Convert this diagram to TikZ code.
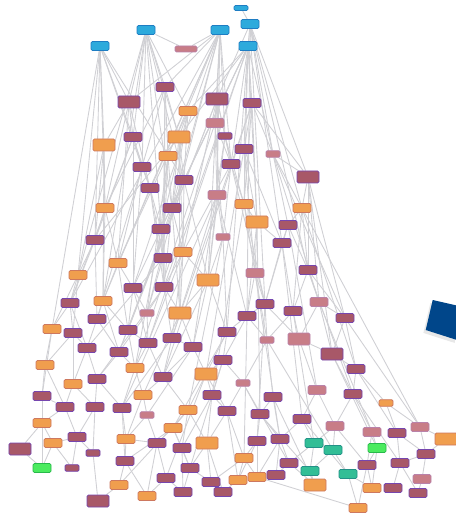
\documentclass[tikz,border=0pt]{standalone}
\usetikzlibrary{backgrounds, shadows}
\definecolor{blueFill}{RGB}{45, 170, 220}
\definecolor{blueEdge}{RGB}{30, 125, 195}
\definecolor{plumFill}{RGB}{168, 88, 104}
\definecolor{plumEdge}{RGB}{118, 70, 175}
\definecolor{orangeFill}{RGB}{240, 158, 78}
\definecolor{orangeEdge}{RGB}{205, 120, 95}
\definecolor{roseFill}{RGB}{200, 125, 135}
\definecolor{roseEdge}{RGB}{185, 130, 170}
\definecolor{greenFill}{RGB}{75, 235, 95}
\definecolor{greenEdge}{RGB}{40, 185, 75}
\definecolor{tealFill}{RGB}{50, 190, 150}
\definecolor{tealEdge}{RGB}{35, 145, 135}
\definecolor{edgeGray}{RGB}{208, 208, 212}
\definecolor{markBlue}{RGB}{0, 70, 138}
\tikzset{
    x=0.03cm, y=-0.03cm,
    %
    % 基础节点样式
    box/.style={
        rectangle, rounded corners=1.2pt, line width=0.7pt,
        inner sep=0pt, minimum width=0.54cm, minimum height=0.27cm
    },
    big/.style={minimum width=0.66cm, minimum height=0.36cm},
    small/.style={minimum width=0.42cm, minimum height=0.2cm},
    %
    B/.style={box, draw=blueEdge, fill=blueFill},
    Bs/.style={B, small, minimum height=0.15cm},
    P/.style={box, draw=plumEdge, fill=plumFill},
    Pb/.style={P, big},
    Ps/.style={P, small},
    O/.style={box, draw=orangeEdge, fill=orangeFill},
    Ob/.style={O, big},
    Os/.style={O, small},
    R/.style={box, draw=roseEdge, fill=roseFill},
    Rb/.style={R, big},
    Rs/.style={R, small},
    Rw/.style={R, minimum width=0.66cm, minimum height=0.18cm},
    G/.style={box, draw=greenEdge, fill=greenFill},
    T/.style={box, draw=tealEdge, fill=tealFill},
    %
    % 连线样式
    link/.style={draw=edgeGray, line width=0.75pt}
}
\begin{document}
\begin{tikzpicture}

	\useasboundingbox (0,0) rectangle (455,516);

	%% 布局：x/y/样式
	\foreach \x/\y/\s [count=\i] in {
		241/8/Bs, 250/24/B, 220/30/B, 146/30/B, 100/46/B, 248/46/B, 186/49/Rw,
		165/87/P, 129/102/Pb, 217/99/Pb, 252/103/P, 188/111/O, 215/123/R,
		133/137/P, 179/137/Ob, 225/136/Ps, 104/145/Ob, 244/149/P, 273/154/Rs,
		168/156/O, 231/164/P, 142/167/P, 308/177/Pb, 184/180/P, 150/188/P,
		217/195/R, 244/204/O, 172/208/P, 105/208/O, 302/208/O, 257/222/Ob,
		288/225/P, 161/229/P, 223/237/Rs, 95/240/P, 282/243/P, 183/252/O,
		163/258/P, 118/263/O, 255/273/R, 308/270/P, 78/275/O, 208/280/Ob,
		164/287/P, 133/288/P, 319/302/R, 265/304/P, 70/303/P, 103/301/O,
		293/311/P, 180/313/Ob, 247/316/P, 147/313/Rs, 345/318/P, 97/319/P,
		52/329/O, 73/333/P, 128/330/P, 227/332/P, 172/338/P, 299/339/Rb,
		267/340/Rs, 148/343/P, 193/347/P, 87/348/P, 119/352/P, 332/354/Pb,
		223/360/P, 45/365/O, 135/368/O, 356/369/P, 206/374/Ob, 163/377/P,
		97/379/P, 73/384/O, 243/383/Rs, 317/390/R, 42/396/P, 143/395/O,
		353/394/P, 212/395/P, 273/397/P, 386/403/Os, 65/407/P, 95/407/P,
		122/408/P, 188/410/O, 227/411/P, 260/414/P, 302/419/P, 147/415/Rs,
		42/423/O, 420/427/R, 335/426/R, 173/428/O, 372/432/R, 397/433/P,
		77/437/P, 126/439/O, 280/439/P, 446/439/Ob, 207/443/Ob, 257/441/P,
		314/443/T, 53/443/O, 157/443/P, 182/448/P, 20/449/Pb, 333/450/T,
		377/448/G, 93/453/Ps, 426/454/P, 244/458/O, 125/461/P, 289/463/P,
		367/465/P, 400/463/P, 42/468/G, 72/468/Ps, 190/468/P, 310/471/T,
		348/474/T, 166/478/P, 211/482/P, 238/480/O, 257/477/O, 276/475/P,
		422/479/R, 315/485/Ob, 119/485/O, 372/488/O, 393/488/P, 183/492/P,
		223/492/P, 418/493/P, 147/496/O, 98/501/Pb, 358/508/O}
		\node[\s] (v\i) at (\x,\y) {};

	%% 连线（放在背景层）
	\begin{scope}[on background layer]
	\foreach \a/\b in {
		1/2, 2/6, 2/10, 2/19, 2/23, 2/30, 2/36, 2/47, 2/41, 2/52,
		3/7, 3/10, 3/16, 3/13, 3/8, 3/9, 3/20, 3/25, 3/28, 3/21, 3/26, 3/39, 3/48, 3/45, 3/53,
		4/7, 4/8, 4/9, 4/14, 4/22, 4/15, 4/24, 4/28, 4/33, 4/12, 4/42, 4/49,
		5/9, 5/17, 5/29, 5/35, 5/22, 5/42, 5/14, 5/24, 5/56,
		6/11, 6/18, 6/21, 6/27, 6/19, 6/15, 6/12, 6/31, 6/24, 6/33, 6/44, 6/59, 6/45, 6/63,
		8/15, 8/20, 8/22, 8/38, 8/44, 8/29,
		9/14, 9/17, 9/25, 9/29, 9/39,
		10/13, 10/16, 10/21, 10/26, 10/37, 10/43, 10/58, 10/66,
		11/18, 11/19, 11/27, 11/31, 11/23, 11/60, 11/73,
		12/15, 12/24, 12/28, 12/33, 12/39,
		13/21, 13/26, 13/34, 13/70,
		14/22, 14/25, 14/35, 14/45, 14/48,
		15/24, 15/28, 15/37, 15/51, 15/35,
		16/21, 16/27, 16/43, 16/64,
		17/29, 17/35, 17/42, 17/49,
		18/27, 18/31, 18/40, 18/36, 18/72,
		19/23, 19/30, 19/32, 19/54, 19/46,
		20/28, 20/33, 20/38, 20/53,
		21/27, 21/34, 21/47, 21/44,
		22/25, 22/39, 22/45, 22/55,
		23/30, 23/41, 23/46, 23/67, 23/54,
		24/28, 24/37, 24/43, 24/66,
		25/33, 25/38, 25/44, 25/49,
		26/34, 26/43, 26/52, 26/86, 26/51,
		27/31, 27/40, 27/47, 27/81,
		28/37, 28/44, 28/51, 28/58,
		29/35, 29/39, 29/49,
		30/32, 30/41, 30/50, 30/71, 30/93,
		31/36, 31/40, 31/52, 31/89,
		32/36, 32/41, 32/47, 32/77,
		33/38, 33/44, 33/70,
		34/43, 34/59, 34/87,
		35/42, 35/48, 35/55,
		36/47, 36/50, 36/90,
		37/43, 37/51, 37/60, 37/63,
		38/44, 38/53, 38/65,
		39/45, 39/49, 39/58,
		40/47, 40/52, 40/62, 40/100,
		41/46, 41/50, 41/54, 41/80,
		42/48, 42/56, 42/57,
		43/51, 43/59, 43/64, 43/73,
		44/51, 44/53, 44/60, 44/74,
		45/53, 45/58, 45/63,
		46/54, 46/61, 46/67, 46/96,
		47/52, 47/62, 47/61, 47/103,
		48/56, 48/57, 48/65,
		49/55, 49/58, 49/66,
		50/61, 50/62, 50/104,
		51/60, 51/64, 51/79,
		52/59, 52/62, 52/68, 52/113,
		53/63, 53/66,
		54/67, 54/71, 54/93,
		55/65, 55/66,
		56/69, 56/78,
		57/65, 57/69, 57/75,
		58/63, 58/70,
		59/68, 59/72, 59/95,
		60/64, 60/73, 60/86,
		61/67, 61/77,
		62/76, 62/82, 62/109,
		63/70, 63/73,
		64/72, 64/73, 64/91,
		65/74, 65/75,
		66/70, 66/74,
		67/71, 67/80, 67/110,
		68/72, 68/76, 68/81, 68/120,
		69/78, 69/84,
		70/79, 70/86,
		71/80, 71/83, 71/97,
		72/81, 72/87, 72/88, 72/123,
		73/79, 73/87,
		74/85, 74/86,
		75/84, 75/85,
		76/88, 76/89, 76/115,
		77/90, 77/94,
		78/92, 78/84,
		79/91, 79/99,
		80/94, 80/96, 80/117,
		81/88, 81/102, 81/107,
		82/89, 82/100, 82/129,
		83/93, 83/97,
		84/92, 84/98,
		85/98, 85/111,
		86/99, 86/114,
		87/95, 87/102, 87/107, 87/130,
		88/102, 88/113, 88/125,
		89/103, 89/100, 89/121,
		90/104, 90/100, 90/122,
		91/106, 91/99,
		92/105, 92/108, 92/118,
		93/101, 93/112,
		94/109, 94/104, 94/116,
		95/107, 95/106, 95/120, 95/114,
		96/110, 96/116,
		97/112, 97/117,
		98/105, 98/111, 98/119,
		99/114, 99/106,
		100/115, 100/127, 100/126,
		101/112,
		102/120, 102/124, 102/134,
		103/113, 103/126, 103/125,
		104/121, 104/115,
		105/118, 105/119,
		106/123, 106/136,
		107/120, 107/133,
		108/118,
		109/122, 109/121,
		110/116, 110/131,
		111/137,
		112/128, 112/117,
		113/125, 113/126, 113/124,
		114/130, 114/136,
		115/127, 115/129,
		116/131, 116/138,
		117/132, 117/135,
		120/133, 120/124,
		121/129,
		122/138, 122/131,
		123/133, 123/136,
		124/134, 125/134, 126/138,
		128/135, 130/137}
		\draw[link] (v\a) -- (v\b);
	\end{scope}

	%% 右侧蓝色方块
	\fill[markBlue, drop shadow={shadow xshift=-2pt, shadow yshift=-2.5pt, opacity=0.18}]
		(432.7,300) -- (462,306.7) -- (457,340) -- (425.7,330) -- cycle;

\end{tikzpicture}
\end{document}
